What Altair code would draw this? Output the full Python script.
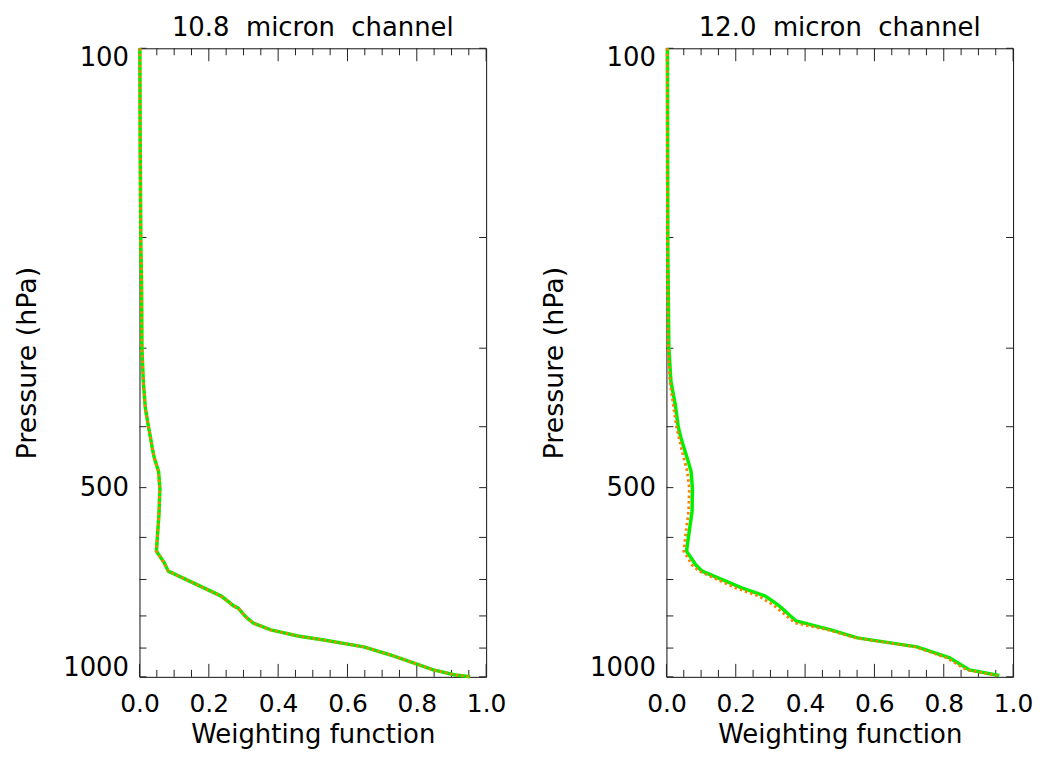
import altair as alt
import pandas as pd

# ---- data ----
titles = ["10.8\u00a0\u00a0micron\u00a0\u00a0channel", "12.0\u00a0\u00a0micron\u00a0\u00a0channel"]

# 10.8 micron channel
p_108_green = [100, 145, 208, 239, 300, 339, 374, 400, 417, 433, 449, 471, 501, 553, 595, 631,
               659, 679, 744, 772, 777, 803, 821, 842, 861, 874, 896, 923, 950, 975, 993, 1000]
w_108_green = [0.001, 0.002, 0.004, 0.006, 0.007, 0.011, 0.017, 0.026, 0.032, 0.037, 0.043, 0.055,
               0.059, 0.056, 0.052, 0.049, 0.072, 0.083, 0.236, 0.273, 0.284, 0.307, 0.328, 0.379,
               0.457, 0.532, 0.647, 0.724, 0.790, 0.848, 0.911, 0.954]
p_108_orange = [100, 145, 208, 239, 300, 339, 374, 400, 417, 433, 449, 471, 501, 553, 595, 631,
                659, 679, 744, 772, 777, 803, 821, 842, 861, 874, 896, 923, 950, 975, 993, 1000]
w_108_orange = [0.001, 0.002, 0.004, 0.006, 0.007, 0.011, 0.017, 0.026, 0.032, 0.037, 0.043, 0.054,
                0.058, 0.056, 0.052, 0.048, 0.071, 0.083, 0.235, 0.272, 0.284, 0.307, 0.327, 0.378,
                0.456, 0.531, 0.646, 0.724, 0.790, 0.848, 0.911, 0.955]

# 12.0 micron channel
p_120_green = [100, 208, 300, 339, 370, 400, 417, 433, 449, 471, 501, 545, 602, 631, 664, 679,
               722, 744, 769, 815, 842, 867, 896, 933, 975, 995]
w_120_green = [0.003, 0.004, 0.007, 0.013, 0.026, 0.034, 0.042, 0.051, 0.060, 0.071, 0.075, 0.074,
               0.063, 0.058, 0.085, 0.103, 0.217, 0.285, 0.323, 0.374, 0.474, 0.551, 0.723, 0.817,
               0.874, 0.960]
p_120_orange = [100, 208, 300, 339, 370, 400, 433, 471, 501, 545, 602, 631, 664, 679, 722, 744,
                769, 797, 821, 842, 867, 896, 933, 975, 995]
w_120_orange = [0.002, 0.003, 0.005, 0.010, 0.020, 0.029, 0.043, 0.060, 0.066, 0.064, 0.054, 0.050,
                0.074, 0.094, 0.200, 0.266, 0.309, 0.343, 0.371, 0.466, 0.546, 0.717, 0.809, 0.866,
                0.954]

y_labels = [100, 500, 1000]
y_ticks = [100, 200, 300, 400, 500, 600, 700, 800, 900, 1000]
x_major = [0.0, 0.2, 0.4, 0.6, 0.8, 1.0]
x_minor = [0.05, 0.1, 0.15, 0.25, 0.3, 0.35, 0.45, 0.5, 0.55, 0.65, 0.7, 0.75, 0.85, 0.9, 0.95]

HEIGHT = 631
FONT = "DejaVu Sans"
TICK_COLOR = "#222222"


def panel(title, width, pg, wg, po, wo):
    yscale = alt.Scale(type="log", domain=[100, 1000], reverse=True, nice=False)
    xscale = alt.Scale(domain=[0, 1], nice=False, zero=False)
    yaxis = alt.Axis(values=y_labels, format="d", title="Pressure (hPa)", ticks=False, tickSize=0,
                     domain=False, grid=False, labelFlush=True, labelFlushOffset=4,
                     labelFontSize=26, titleFontSize=27,
                     labelFont=FONT, titleFont=FONT, labelColor="black", titleColor="black",
                     titleFontWeight="normal", labelPadding=11, titlePadding=21)
    xaxis = alt.Axis(values=x_major, format=".1f", title="Weighting function", ticks=False,
                     tickSize=0, domain=False, grid=False, labelFlush=False, labelFontSize=25,
                     titleFontSize=26, labelFont=FONT, titleFont=FONT, labelColor="black",
                     titleColor="black", titleFontWeight="normal", labelPadding=15, titlePadding=5,
                     labelOverlap=False)
    X = alt.X("w:Q", scale=xscale, axis=xaxis)
    Y = alt.Y("p:Q", scale=yscale, axis=yaxis)

    gdf = pd.DataFrame({"p": pg, "w": wg, "i": list(range(len(pg)))})
    odf = pd.DataFrame({"p": po, "w": wo, "i": list(range(len(po)))})
    ydf = pd.DataFrame({"p": y_ticks})
    xmaj = pd.DataFrame({"w": x_major})
    xmin = pd.DataFrame({"w": x_minor})

    green = alt.Chart(gdf).mark_line(color="#00f000", strokeWidth=3.5).encode(
        x=X, y=Y, order="i:Q")
    orange = alt.Chart(odf).mark_line(color="#ff7f00", strokeWidth=2.8, strokeDash=[2.5, 3]).encode(
        x=X, y=Y, order="i:Q")
    yl = alt.Chart(ydf).mark_rule(color=TICK_COLOR, strokeWidth=1).encode(
        y=Y, x=alt.value(0), x2=alt.value(7))
    yr = alt.Chart(ydf).mark_rule(color=TICK_COLOR, strokeWidth=1).encode(
        y=Y, x=alt.value(width - 7), x2=alt.value(width))
    xb_maj = alt.Chart(xmaj).mark_rule(color=TICK_COLOR, strokeWidth=1).encode(
        x=X, y=alt.value(HEIGHT), y2=alt.value(HEIGHT - 13))
    xt_maj = alt.Chart(xmaj).mark_rule(color=TICK_COLOR, strokeWidth=1).encode(
        x=X, y=alt.value(0), y2=alt.value(13))
    xb_min = alt.Chart(xmin).mark_rule(color=TICK_COLOR, strokeWidth=1).encode(
        x=X, y=alt.value(HEIGHT), y2=alt.value(HEIGHT - 7))
    xt_min = alt.Chart(xmin).mark_rule(color=TICK_COLOR, strokeWidth=1).encode(
        x=X, y=alt.value(0), y2=alt.value(7))

    return alt.layer(yl, yr, xb_maj, xt_maj, xb_min, xt_min, green, orange).properties(
        width=width, height=HEIGHT,
        title=alt.TitleParams(title, fontSize=26, font=FONT, fontWeight="normal",
                              anchor="middle", color="black", offset=0))


left = panel(titles[0], 348, p_108_green, w_108_green, p_108_orange, w_108_orange)
right = panel(titles[1], 348, p_120_green, w_120_green, p_120_orange, w_120_orange)

chart = alt.hconcat(left, right, spacing=181, bounds="flush").properties(
    padding={"left": 5, "top": 5, "right": 0, "bottom": 0}
).configure(background="white").configure_view(stroke="#111111", strokeWidth=1)

chart.save("out.html", embed_options={"renderer": "svg", "actions": False})
